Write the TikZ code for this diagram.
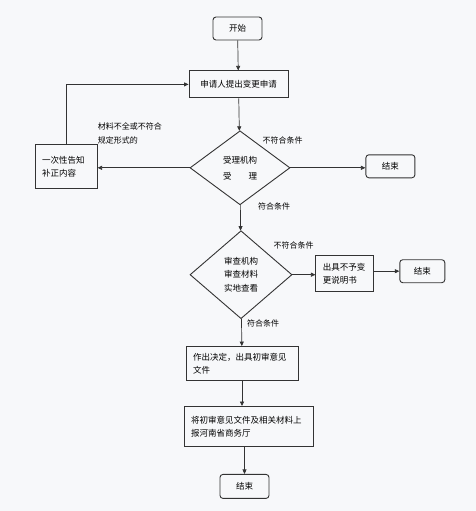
\documentclass[tikz,border=0pt]{standalone}
\usepackage{fontspec}
\setmainfont{Noto Sans CJK SC}
\usepackage{tikz}
\usetikzlibrary{shapes.geometric, arrows.meta, positioning, calc}
\definecolor{linegray}{HTML}{333333}
\definecolor{pagebg}{HTML}{F7F8FA}

\begin{document}
\begin{tikzpicture}[
  x=1pt, y=-1pt,
  node distance=25pt and 25pt,
  term/.style={draw=linegray, rounded corners=3pt, line width=0.9pt, minimum width=49pt, minimum height=23pt, inner sep=0pt, font=\fontsize{8.5}{13}\selectfont},
  proc/.style={draw=linegray, line width=0.9pt, inner ysep=0pt, inner xsep=7pt, align=left, font=\fontsize{8.5}{13}\selectfont},
  judge/.style={diamond, draw=linegray, line width=0.9pt, inner sep=0pt, align=center, font=\fontsize{8.5}{13.5}\selectfont},
  lbl/.style={inner sep=0pt, align=left, font=\fontsize{8}{14}\selectfont},
  arr/.style={-{Triangle[length=4.5pt,width=4pt]}, linegray, line width=0.7pt}
]
\path[use as bounding box, fill=pagebg] (0,0) rectangle (476,511);

\node[term] (start) at (237.5,28.5) {开始};
\node[proc, below=30pt of start, xshift=1pt, minimum width=99pt, minimum height=27pt, align=center] (apply) {申请人提出变更申请};
\node[judge, below=32pt of apply, xshift=1.5pt, minimum width=100pt, minimum height=74pt] (check) {受理机构\\[2.5pt]受\hspace{2em}理};
\node[term, right=75pt of check, yshift=1.5pt] (end1) {结束};
\node[proc, left=92pt of check, yshift=1pt, text width=48pt, minimum height=44pt] (notice) {一次性告知\\补正内容};

\node[judge, below=25pt of check, xshift=1pt, minimum width=102pt, minimum height=88pt] (review) {审查机构\\审查材料\\实地查看};
\node[proc, right=23pt of review, yshift=1pt, text width=44pt, minimum height=36pt] (refuse) {出具不予变\\更说明书};
\node[term, right=25pt of refuse, yshift=2.5pt, minimum width=45pt] (end2) {结束};

\node[proc, below=27pt of review, xshift=1pt, text width=98pt, minimum height=34pt] (decide) {作出决定，出具初审意见\\文件};
\node[proc, below=25pt of decide, xshift=6.5pt, text width=115pt, minimum height=40pt] (report) {将初审意见文件及相关材料上\\报河南省商务厅\\[3pt]};
\node[term, below=27pt of report, xshift=-4pt, minimum height=24pt] (end3) {结束};

% condition labels
\node[lbl, anchor=west] (nc1) at ([xshift=-28pt, yshift=27pt]check.east) {不符合条件};
\node[lbl, anchor=west] (ok1) at ([xshift=18pt, yshift=-1pt]check.south) {符合条件};
\node[lbl, anchor=north west] (nc0) at ([yshift=22pt]notice.north east) {材料不全或不符合\\规定形式的};
\node[lbl, anchor=west] (nc2) at ([xshift=-19pt, yshift=29pt]review.east) {不符合条件};
\node[lbl, anchor=west] (ok2) at ([xshift=6pt, yshift=-4pt]review.south) {符合条件};

\draw[arr] (start) -- (apply);
\draw[arr] (apply) -- (check);
\draw[arr] (check.east) -- (check.east -| end1.west);
\draw[arr] (check.west) -- (check.west -| notice.east);
\draw[arr] (notice.north) |- (apply.west);
\draw[arr] (check) -- (review);
\draw[arr] (review.east) -- (review.east -| refuse.west);
\draw[arr] (refuse.east |- end2.west) -- (end2.west);
\draw[arr] (review) -- (decide);
\draw[arr] (decide) -- (decide |- report.north);
\draw[arr] (end3 |- report.south) -- (end3);
\end{tikzpicture}
\end{document}
